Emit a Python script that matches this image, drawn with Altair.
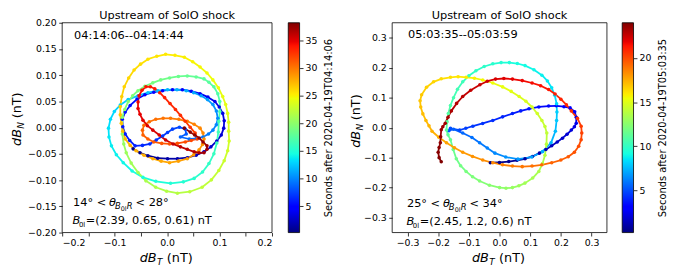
import altair as alt
import pandas as pd

# ---------------- data ----------------
# left panel, in time order: dB_T, dB_N (nT) and seconds
L_X = [-0.0648, -0.0516, -0.0366, -0.0178, 0.0009, 0.0197, 0.0385, 0.0554, 0.0704, 0.0836, 0.0948, 0.1033, 0.1080, 0.1089,
       0.1061, 0.0995, 0.0911, 0.0779, 0.0629, 0.0460, 0.0291, 0.0103, -0.0085, -0.0254, -0.0423, -0.0573, -0.0704, -0.0798,
       -0.0854, -0.0845, -0.0798, -0.0714, -0.0610,
       -0.0469, -0.0329, -0.0207, -0.0085, 0.0009, 0.0103, 0.0235, 0.0347, 0.0366, 0.0254,
       0.0423, 0.0554, 0.0685, 0.0789, 0.0873, 0.0939, 0.0967, 0.0939, 0.0873, 0.0770, 0.0648, 0.0507, 0.0366, 0.0188, 0.0009,
       -0.0178, -0.0366, -0.0554, -0.0742, -0.0892, -0.1005, -0.1080, -0.1117, -0.1108, -0.1061, -0.0967, -0.0836, -0.0667,
       -0.0460, -0.0216, 0.0066, 0.0310, 0.0516, 0.0676, 0.0798, 0.0892, 0.0948, 0.0977,
       0.0986, 0.1005, 0.1005, 0.0967, 0.0892, 0.0798, 0.0704, 0.0554, 0.0385, 0.0216, 0.0047, -0.0122, -0.0272, -0.0423,
       -0.0554, -0.0657, -0.0742, -0.0807, -0.0854,
       -0.0854, -0.0826, -0.0779, -0.0685, -0.0554, -0.0404, -0.0216, -0.0009, 0.0197, 0.0432, 0.0667, 0.0845, 0.0986, 0.1089,
       0.1155, 0.1183, 0.1174,
       0.1174, 0.1155, 0.1117, 0.1061, 0.0977, 0.0873, 0.0761, 0.0629, 0.0488, 0.0329, 0.0150, -0.0028, -0.0197, -0.0366,
       -0.0507, -0.0629, -0.0732, -0.0817, -0.0864, -0.0892, -0.0892, -0.0873,
       -0.0845, -0.0798, -0.0704, -0.0592, -0.0441, -0.0272, -0.0113, 0.0047, 0.0216, 0.0385, 0.0507, 0.0610, 0.0676, 0.0704,
       0.0685, 0.0629, 0.0516, 0.0385, 0.0225, 0.0066, -0.0075, -0.0216, -0.0338, -0.0441, -0.0469, -0.0460, -0.0366, -0.0254,
       -0.0103, 0.0047, 0.0197, 0.0347, 0.0460, 0.0573,
       0.0535, 0.0441, 0.0347, 0.0254, 0.0160, 0.0056, -0.0047, -0.0141, -0.0235, -0.0319, -0.0404, -0.0479, -0.0535, -0.0554,
       -0.0554, -0.0516, -0.0460, -0.0376, -0.0272, -0.0150, -0.0028, 0.0113, 0.0254, 0.0385, 0.0516, 0.0610, 0.0704, 0.0761,
       0.0761, 0.0685, 0.0610, 0.0526, 0.0441, 0.0329]
L_Y = [-0.0404, -0.0479, -0.0535, -0.0582, -0.0592, -0.0592, -0.0573, -0.0526, -0.0460, -0.0366, -0.0254, -0.0141, -0.0009, 0.0131,
       0.0272, 0.0394, 0.0498, 0.0582, 0.0648, 0.0695, 0.0723, 0.0723, 0.0704, 0.0676, 0.0629, 0.0545, 0.0423, 0.0300,
       0.0160, 0.0019, -0.0122, -0.0244, -0.0347,
       -0.0338, -0.0310, -0.0235, -0.0160, -0.0094, -0.0028, 0.0009, -0.0028, -0.0122, -0.0178,
       -0.0216, -0.0207, -0.0178, -0.0122, -0.0047, 0.0056, 0.0178, 0.0319, 0.0441, 0.0535, 0.0610, 0.0667, 0.0704, 0.0723, 0.0723,
       0.0704, 0.0667, 0.0610, 0.0535, 0.0432, 0.0310, 0.0160, -0.0009, -0.0178, -0.0347, -0.0516, -0.0667, -0.0826,
       -0.0948, -0.1023, -0.1061, -0.1033, -0.0967, -0.0845, -0.0685, -0.0498, -0.0291, -0.0085,
       0.0122, 0.0310, 0.0498, 0.0648, 0.0779, 0.0864, 0.0930, 0.0967, 0.0986, 0.0977, 0.0948, 0.0911, 0.0854, 0.0789,
       0.0704, 0.0610, 0.0498, 0.0347, 0.0197,
       -0.0122, -0.0310, -0.0479, -0.0676, -0.0854, -0.1014, -0.1136, -0.1211, -0.1249, -0.1221, -0.1136, -0.0995, -0.0817, -0.0629,
       -0.0441, -0.0254, -0.0066,
       0.0103, 0.0272, 0.0441, 0.0592, 0.0761, 0.0911, 0.1042, 0.1155, 0.1258, 0.1343, 0.1380, 0.1399, 0.1361, 0.1305,
       0.1211, 0.1099, 0.0948, 0.0779, 0.0592, 0.0404, 0.0244, 0.0085,
       -0.0066, -0.0216, -0.0338, -0.0441, -0.0526, -0.0592, -0.0638, -0.0667, -0.0638, -0.0592, -0.0516, -0.0423, -0.0319, -0.0216,
       -0.0103, -0.0009, 0.0066, 0.0122, 0.0160, 0.0178, 0.0178, 0.0160, 0.0113, 0.0047, -0.0047, -0.0141, -0.0216, -0.0272,
       -0.0300, -0.0310, -0.0300, -0.0272, -0.0244, -0.0216,
       -0.0103, 0.0009, 0.0122, 0.0235, 0.0347, 0.0460, 0.0573, 0.0667, 0.0742, 0.0779, 0.0779, 0.0714, 0.0610, 0.0488,
       0.0366, 0.0254, 0.0141, 0.0038, -0.0047, -0.0141, -0.0235, -0.0310, -0.0366, -0.0413, -0.0460, -0.0479, -0.0479, -0.0413,
       -0.0347, -0.0272, -0.0197, -0.0141, -0.0085, -0.0009]
L_T = [0.3, 0.6, 0.9, 1.2, 1.5, 1.75, 2.0, 2.25, 2.5, 2.7, 2.9, 3.05, 3.2, 3.35,
       3.5, 3.65, 3.8, 3.95, 4.1, 4.25, 4.4, 4.55, 4.7, 4.85, 5.0, 5.15, 5.3, 5.45,
       5.6, 5.75, 5.9, 6.05, 6.2,
       6.4, 6.6, 6.8, 7.0, 7.2, 7.4, 7.7, 8.0, 8.3, 8.6,
       9.0, 9.2, 9.4, 9.6, 9.8, 10.0, 10.2, 10.4, 10.6, 10.8, 11.0, 11.2, 11.4, 11.6, 11.8,
       12.0, 12.2, 12.4, 12.6, 12.8, 13.0, 13.2, 13.4, 13.6, 13.8, 14.0, 14.2, 14.4,
       14.6, 14.8, 15.0, 15.2, 15.4, 15.6, 15.8, 16.0, 16.2, 16.4,
       16.6, 16.8, 17.0, 17.2, 17.4, 17.6, 17.8, 18.0, 18.2, 18.4, 18.6, 18.8, 19.0, 19.15,
       19.3, 19.45, 19.6, 19.8, 20.0,
       20.3, 20.5, 20.7, 20.9, 21.1, 21.3, 21.5, 21.7, 21.9, 22.1, 22.3, 22.5, 22.7, 22.9,
       23.1, 23.3, 23.5,
       23.7, 23.9, 24.05, 24.2, 24.35, 24.5, 24.65, 24.8, 24.95, 25.1, 25.25, 25.4, 25.55, 25.7,
       25.85, 26.0, 26.15, 26.3, 26.45, 26.6, 26.8, 27.0,
       27.15, 27.3, 27.45, 27.6, 27.75, 27.9, 28.05, 28.2, 28.35, 28.5, 28.65, 28.8, 28.95, 29.1,
       29.25, 29.4, 29.55, 29.7, 29.85, 30.0, 30.15, 30.3, 30.45, 30.6, 30.75, 30.9, 31.05, 31.2,
       31.35, 31.5, 31.65, 31.8, 31.95, 32.1,
       32.4, 32.6, 32.8, 33.0, 33.2, 33.35, 33.5, 33.65, 33.8, 33.95, 34.1, 34.25, 34.4, 34.55,
       34.7, 34.85, 35.0, 35.15, 35.3, 35.5, 35.7, 35.9, 36.1, 36.3, 36.5, 36.7, 36.9, 37.1,
       37.3, 37.45, 37.6, 37.75, 37.9, 38.1]

# right panel
R_X = [-0.030, 0.000, 0.030, 0.057, 0.083, 0.107, 0.130, 0.151, 0.170, 0.188, 0.205, 0.220, 0.234, 0.244, 0.250, 0.250,
       0.245, 0.230, 0.210, 0.185, 0.160, 0.128, 0.096, 0.069, 0.042, 0.010, -0.022, -0.055, -0.087, -0.110, -0.130,
       -0.160, -0.165, -0.150, -0.120, -0.090, -0.065, -0.040, -0.015, 0.020, 0.060, 0.105, 0.140, 0.168, 0.182,
       0.186, 0.187, 0.186, 0.180, 0.170, 0.156, 0.138, 0.112, 0.083, 0.058, 0.032, 0.005, -0.022, -0.050, -0.077,
       -0.100, -0.120, -0.137, -0.150, -0.160, -0.167, -0.171, -0.173,
       -0.168, -0.160, -0.151, -0.141, -0.127, -0.109, -0.088, -0.065, -0.033, 0.000, 0.021, 0.042, 0.063, 0.083,
       0.108, 0.128, 0.140, 0.148, 0.153, 0.154,
       0.148, 0.138, 0.123, 0.106, 0.086, 0.064, 0.038, 0.010, -0.022, -0.055, -0.082, -0.109, -0.135, -0.160,
       -0.190, -0.215, -0.238, -0.254, -0.259, -0.257, -0.250, -0.240, -0.230, -0.220,
       -0.198, -0.173, -0.147, -0.120, -0.088, -0.055, -0.022, 0.010, 0.042, 0.074, 0.106, 0.138, 0.170, 0.200,
       0.224, 0.244, 0.258, 0.266, 0.268, 0.266,
       0.254, 0.234, 0.218, 0.200, 0.181, 0.160, 0.134, 0.106, 0.074, 0.042, 0.014, -0.013, -0.040, -0.064,
       -0.094, -0.120, -0.140, -0.157, -0.168, -0.177, -0.185, -0.190, -0.192, -0.193, -0.197, -0.200, -0.197, -0.190]
R_Y = [-0.117, -0.116, -0.113, -0.109, -0.104, -0.096, -0.085, -0.073, -0.060, -0.048, -0.035, -0.022, -0.008, 0.003, 0.015, 0.035,
       0.053, 0.066, 0.070, 0.073, 0.072, 0.069, 0.063, 0.056, 0.047, 0.036, 0.024, 0.014, 0.005, -0.002, -0.008,
       -0.002, -0.010, -0.005, -0.018, -0.033, -0.050, -0.068, -0.085, -0.098, -0.105, -0.098, -0.080, -0.050, -0.012,
       0.024, 0.052, 0.080, 0.108, 0.133, 0.156, 0.175, 0.193, 0.207, 0.214, 0.217, 0.217, 0.213, 0.204, 0.190,
       0.173, 0.153, 0.128, 0.100, 0.074, 0.047, 0.020, -0.008,
       -0.024, -0.040, -0.073, -0.104, -0.127, -0.146, -0.164, -0.178, -0.192, -0.200, -0.202, -0.200, -0.194, -0.185,
       -0.168, -0.146, -0.120, -0.092, -0.055, -0.018,
       0.004, 0.024, 0.047, 0.069, 0.088, 0.104, 0.121, 0.136, 0.149, 0.159, 0.165, 0.168, 0.170, 0.168,
       0.163, 0.153, 0.135, 0.110, 0.090, 0.069, 0.046, 0.024, 0.006, -0.012,
       -0.032, -0.050, -0.067, -0.082, -0.096, -0.108, -0.117, -0.124, -0.128, -0.130, -0.128, -0.124, -0.117, -0.108,
       -0.097, -0.082, -0.062, -0.040, -0.018, 0.005,
       0.031, 0.056, 0.076, 0.095, 0.112, 0.127, 0.140, 0.149, 0.157, 0.162, 0.164, 0.162, 0.155, 0.143,
       0.125, 0.104, 0.081, 0.056, 0.035, 0.015, 0.003, -0.007, -0.030, -0.050, -0.066, -0.082, -0.100, -0.114]
R_T = [0.3, 0.45, 0.6, 0.75, 0.9, 1.05, 1.2, 1.35, 1.5, 1.65, 1.8, 1.95, 2.1, 2.25, 2.4, 2.55,
       2.7, 2.85, 3.0, 3.15, 3.3, 3.45, 3.6, 3.75, 3.9, 4.05, 4.2, 4.35, 4.5, 4.65, 4.8,
       5.0, 5.2, 5.4, 5.6, 5.8, 6.0, 6.2, 6.4, 6.6, 6.8, 7.0, 7.2, 7.4, 7.6,
       7.9, 8.05, 8.2, 8.35, 8.5, 8.65, 8.8, 8.95, 9.1, 9.25, 9.4, 9.55, 9.7, 9.85, 10.0,
       10.15, 10.3, 10.45, 10.6, 10.75, 10.9, 11.05, 11.2,
       11.3, 11.4, 11.55, 11.7, 11.85, 12.0, 12.15, 12.3, 12.45, 12.6, 12.75, 12.9, 13.05, 13.2,
       13.35, 13.5, 13.65, 13.8, 13.95, 14.1,
       14.25, 14.4, 14.55, 14.7, 14.85, 15.0, 15.15, 15.3, 15.45, 15.6, 15.75, 15.9, 16.05, 16.2,
       16.35, 16.5, 16.65, 16.8, 16.9, 17.0, 17.1, 17.2, 17.3, 17.4,
       17.55, 17.7, 17.85, 18.0, 18.15, 18.3, 18.45, 18.6, 18.75, 18.9, 19.05, 19.2, 19.35, 19.5,
       19.65, 19.8, 19.95, 20.1, 20.25, 20.4,
       20.55, 20.7, 20.85, 21.0, 21.15, 21.3, 21.45, 21.6, 21.75, 21.9, 22.05, 22.2, 22.35, 22.5,
       22.65, 22.8, 22.95, 23.1, 23.2, 23.3, 23.4, 23.5, 23.6, 23.7, 23.8, 23.85, 23.92, 24.0]

L_XDOM = [-0.2, 0.2]
L_YDOM = [-0.2, 0.2]
L_TICKS = [-0.2, -0.15, -0.1, -0.05, 0.0, 0.05, 0.1, 0.15, 0.2]
R_XDOM = [-0.35, 0.35]
R_YDOM = [-0.35, 0.35]
R_TICKS = [-0.3, -0.2, -0.1, 0.0, 0.1, 0.2, 0.3]
L_CDOM = [0.2, 38.2]
L_CTICKS = [5, 10, 15, 20, 25, 30, 35]
R_CDOM = [0.2, 24.0]
R_CTICKS = [5, 10, 15, 20]

TITLE = "Upstream of SolO shock"
L_INTERVAL = "04:14:06--04:14:44"
R_INTERVAL = "05:03:35--05:03:59"
L_ANGLES = ("14° <", "< 28°")
R_ANGLES = ("25° <", "< 34°")
L_B0 = "=(2.39, 0.65, 0.61) nT"
R_B0 = "=(2.45, 1.2, 0.6) nT"
L_CBTITLE = "Seconds after 2020-04-19T04:14:06"
R_CBTITLE = "Seconds after 2020-04-19T05:03:35"

# matplotlib 'jet'
JET_STOPS = [0.0, 0.11, 0.125, 0.34, 0.35, 0.375, 0.64, 0.65, 0.66, 0.89, 0.91, 1.0]
JET_COLORS = ["#000080", "#0000ff", "#0000ff", "#00dbff", "#00e6f7", "#15ffe2",
              "#eeff08", "#f7f500", "#ffec00", "#ff1300", "#e80000", "#800000"]

FONT = "DejaVu Sans"
ONE = pd.DataFrame({"k": [0]})
PW_L, PW_R, PH = 213, 218, 213


def txt(s, x, y, size, italic=False, angle=0, align="left"):
    return alt.Chart(ONE).mark_text(
        text=s, font=FONT, fontSize=size, fontStyle="italic" if italic else "normal",
        align=align, baseline="alphabetic", angle=angle, color="black"
    ).encode(x=alt.value(x), y=alt.value(y))


def labels(x0, interval, ang, b0, pw, y_top, y_th, y_b):
    return [
        txt(TITLE, pw / 2, -3.5, 11.5, align="center"),
        txt(interval, x0, y_top, 11.5),
        txt(ang[0], x0 - 1, y_th, 11.5),
        txt("θ", x0 + 35.5, y_th, 11.5, italic=True),
        txt("B", x0 + 41.5, y_th + 3, 8.5, italic=True),
        txt("0l", x0 + 47.5, y_th + 5, 6.5),
        txt("R", x0 + 53.5, y_th + 3, 8.5, italic=True),
        txt(ang[1], x0 + 62.5, y_th, 11.5),
        txt("B", x0 - 1.5, y_b, 11.5, italic=True),
        txt("0l", x0 + 5, y_b + 3, 7),
        txt(b0, x0 + 12, y_b, 11.5),
    ]


def axis_titles(xt, yx, yy):
    return [
        txt("dB", xt, 242.5, 13, italic=True),
        txt("T", xt + 17.5, 245.5, 9, italic=True),
        txt("(nT)", xt + 27.5, 242.5, 13),
        txt("dB", yx, yy, 13, italic=True, angle=270),
        txt("N", yx + 3, yy - 17.5, 9, italic=True, angle=270),
        txt("(nT)", yx, yy - 28, 13, angle=270),
    ]


def panel(xs, ys, ts, xdom, ydom, cdom, xticks, yticks, xlab, ylab, pw, extra):
    pts = pd.DataFrame({"x": xs, "y": ys, "t": ts})
    seg = pd.DataFrame({"x": xs[:-1], "y": ys[:-1], "x2": xs[1:], "y2": ys[1:], "t": ts[:-1]})
    sx = alt.Scale(domain=xdom, nice=False, zero=False)
    sy = alt.Scale(domain=ydom, nice=False, zero=False)
    ax = alt.Axis(values=xticks, labelExpr=xlab, title=None, labelPadding=2)
    ay = alt.Axis(values=yticks, format=ylab, title=None, labelPadding=2.5)
    sc = alt.Scale(domain=[cdom[0] + s * (cdom[1] - cdom[0]) for s in JET_STOPS],
                   range=JET_COLORS, interpolate="rgb")
    frame = alt.Chart(pd.DataFrame({"x": [xdom[0]], "x1": [xdom[1]], "y": [ydom[0]], "y1": [ydom[1]]})).mark_rect(
        fillOpacity=0, stroke="black", strokeWidth=0.8
    ).encode(
        x=alt.X("x:Q", scale=sx, axis=ax), x2="x1:Q",
        y=alt.Y("y:Q", scale=sy, axis=ay), y2="y1:Q",
    )
    lines = alt.Chart(seg).mark_rule(strokeWidth=1.8).encode(
        x=alt.X("x:Q", scale=sx, axis=ax), y=alt.Y("y:Q", scale=sy, axis=ay),
        x2="x2:Q", y2="y2:Q", color=alt.Color("t:Q", scale=sc, legend=None))
    dots = alt.Chart(pts).mark_circle(size=13, opacity=1).encode(
        x=alt.X("x:Q", scale=sx, axis=ax), y=alt.Y("y:Q", scale=sy, axis=ay),
        color=alt.Color("t:Q", scale=sc, legend=None))
    return alt.layer(frame, lines, dots, *extra).properties(width=pw, height=PH)


def colorbar(cdom, cticks, title, w):
    grad = alt.LinearGradient(
        gradient="linear",
        stops=[alt.GradientStop(offset=s, color=c) for s, c in zip(JET_STOPS, JET_COLORS)],
        x1=0, x2=0, y1=1, y2=0)
    return alt.Chart(pd.DataFrame({"lo": [cdom[0]], "hi": [cdom[1]]})).mark_rect(
        fill=grad, stroke="black", strokeWidth=0.8
    ).encode(
        x=alt.value(w - 11.5), x2=alt.value(w),
        y=alt.Y("lo:Q", scale=alt.Scale(domain=cdom, nice=False, zero=False),
                axis=alt.Axis(orient="right", values=cticks, format="d", title=title, titleAngle=270,
                              titleBaseline="top", titleFontSize=10, titlePadding=7, labelPadding=2)),
        y2="hi:Q",
    ).properties(width=w, height=PH)


XLAB_L = "abs(round(datum.value*100)) % 10 == 0 ? format(datum.value, '.1f') : ''"
XLAB_R = "format(datum.value, '.1f')"

left = panel(L_X, L_Y, L_T, L_XDOM, L_YDOM, L_CDOM, L_TICKS, L_TICKS, XLAB_L, ".2f", PW_L,
             labels(12, L_INTERVAL, L_ANGLES, L_B0, PW_L, 16, 186, 204.3) + axis_titles(78.7, -41.5, 125))
right = panel(R_X, R_Y, R_T, R_XDOM, R_YDOM, R_CDOM, R_TICKS, R_TICKS, XLAB_R, ".1f", PW_R,
              labels(16, R_INTERVAL, R_ANGLES, R_B0, PW_R, 15.5, 187.3, 205) + axis_titles(81, -33, 127))
left_cb = colorbar(L_CDOM, L_CTICKS, L_CBTITLE, 28)
right_cb = colorbar(R_CDOM, R_CTICKS, R_CBTITLE, 27)
spacer = alt.Chart(ONE).mark_point(opacity=0).encode(x=alt.value(0), y=alt.value(0)).properties(width=94, height=PH)

chart = alt.hconcat(left, left_cb, spacer, right, right_cb, spacing=0, bounds="flush").resolve_scale(
    color="independent", x="independent", y="independent"
).configure_view(
    stroke=None
).configure_axis(
    labelFont=FONT, labelFontSize=9.5, labelColor="black", tickColor="black", tickWidth=0.8, tickSize=3.5,
    domain=False, grid=False, titleFont=FONT, titleFontWeight="normal", titleColor="black"
).properties(padding={"left": 3, "top": 0, "right": 0, "bottom": 0}, background="white")

chart.save("out.html", embed_options={"renderer": "svg", "actions": False})
